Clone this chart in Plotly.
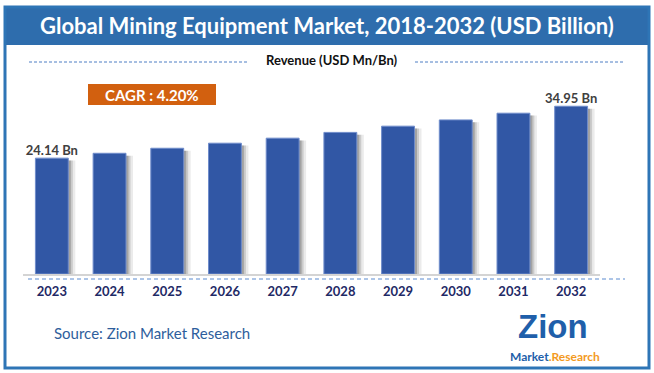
import plotly.graph_objects as go

years = ["2023", "2024", "2025", "2026", "2027", "2028", "2029", "2030", "2031", "2032"]
revenue = [24.14, 25.15, 26.2, 27.25, 28.3, 29.5, 30.8, 32.1, 33.5, 34.95]
bar_labels = ["24.14 Bn", "", "", "", "", "", "", "", "", "34.95 Bn"]
title_text = "Global Mining Equipment Market, 2018-2032 (USD Billion)"
legend_text = "Revenue (USD Mn/Bn)"
cagr_text = "CAGR : 4.20%"
source_text = "Source: Zion Market Research"

W, H = 654, 373
ML, MR, MT, MB = 23, 54, 90, 99
PW = W - ML - MR
PH = H - MT - MB


def px(x):
    return (x - ML) / PW


def py(y):
    return (H - MB - y) / PH


BLUE = "#3157A5"
FONT = "Lato"

fig = go.Figure()
bw = 0.57
for dx, op in [(7, 0.10), (4.5, 0.18), (2.5, 0.28)]:
    fig.add_trace(go.Bar(
        x=years, y=[v - 0.5 for v in revenue], width=bw, offset=-bw / 2 + dx / (PW / 10),
        marker=dict(color=f"rgba(60,60,60,{op})", line=dict(width=0)),
        hoverinfo="skip", showlegend=False,
    ))
fig.add_trace(go.Bar(
    x=years, y=revenue, width=bw, offset=-bw / 2,
    marker=dict(color=BLUE, line=dict(color="#6F8CCB", width=1)),
    showlegend=False,
))
fig.add_trace(go.Scatter(
    x=years, y=revenue, mode="text", text=bar_labels, textposition="top center",
    textfont=dict(family=FONT, size=13, color="#404040", weight="bold"),
    cliponaxis=False, showlegend=False, hoverinfo="skip",
))

DASH = "3px,2px"
shapes = [
    dict(type="rect", xref="paper", yref="paper", x0=px(5), x1=px(649), y0=py(7), y1=py(368),
         line=dict(color="#2E75B6", width=3), fillcolor="rgba(0,0,0,0)", layer="above"),
    dict(type="rect", xref="paper", yref="paper", x0=px(5), x1=px(649), y0=py(7), y1=py(45),
         line=dict(width=0), fillcolor="#2E6DAD", layer="below"),
    dict(type="line", xref="paper", yref="paper", x0=px(29), x1=px(248), y0=py(62), y1=py(62),
         line=dict(color="#4F7FC4", width=1, dash=DASH)),
    dict(type="line", xref="paper", yref="paper", x0=px(415), x1=px(625), y0=py(62), y1=py(62),
         line=dict(color="#4F7FC4", width=1, dash=DASH)),
    dict(type="rect", xref="paper", yref="paper", x0=px(88), x1=px(216), y0=py(84), y1=py(105),
         line=dict(width=0), fillcolor="#D2600F"),
    dict(type="line", xref="paper", yref="paper", x0=px(28), x1=px(625), y0=py(279), y1=py(279),
         line=dict(color="#5B8BD0", width=1, dash="4px,3px")),
]

annotations = [
    dict(text=title_text, x=px(327), y=py(25), xref="paper", yref="paper", showarrow=False,
         font=dict(family=FONT, size=22, color="white", weight="bold"), xanchor="center", yanchor="middle"),
    dict(text=legend_text, x=px(332), y=py(60), xref="paper", yref="paper", showarrow=False,
         font=dict(family=FONT, size=13, color="#111111", weight="bold"), xanchor="center", yanchor="middle"),
    dict(text=cagr_text, x=px(152), y=py(95), xref="paper", yref="paper", showarrow=False,
         font=dict(family=FONT, size=15, color="white", weight="bold"), xanchor="center", yanchor="middle"),
    dict(text=source_text, x=px(52), y=py(333), xref="paper", yref="paper", showarrow=False,
         font=dict(family=FONT, size=15, color="#2E5E9C"), xanchor="left", yanchor="middle"),
    dict(text="<b>Zion</b>", x=px(553), y=py(326), xref="paper", yref="paper", showarrow=False,
         borderpad=0, font=dict(family="Liberation Sans", size=33, color="#1F5FAA"),
         xanchor="center", yanchor="middle"),
    dict(text="<span style='color:#1F5FAA'>Market</span><span style='color:#F39A1E'>.Research</span>",
         x=px(555), y=py(356), xref="paper", yref="paper", showarrow=False, borderpad=0,
         font=dict(family=FONT, size=12, weight="bold"), xanchor="center", yanchor="middle"),
]

fig.update_layout(
    width=W, height=H, margin=dict(l=ML, r=MR, t=MT, b=MB),
    paper_bgcolor="white", plot_bgcolor="white",
    barmode="overlay",
    shapes=shapes, annotations=annotations,
    xaxis=dict(type="category", range=[-0.5, 9.5], showgrid=False, showline=True,
               linecolor="#D4D4D4", linewidth=1.5, ticks="outside", ticklen=5,
               tickcolor="rgba(0,0,0,0)",
               tickfont=dict(family=FONT, size=13, color="#1F2A66", weight="bold")),
    yaxis=dict(range=[0, PH / 4.8], visible=False, showgrid=False),
)
fig.write_html("out.html", post_script="document.body.style.margin='0';",
               config={"displayModeBar": False})
